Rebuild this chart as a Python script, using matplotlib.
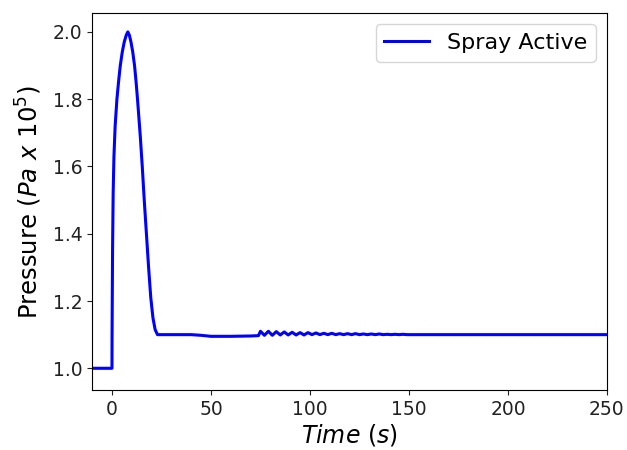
import matplotlib
matplotlib.use("Agg")
import matplotlib.pyplot as plt

# Time (s)
time_s = [-10, 0, 0.05, 0.3, 0.6, 1.0, 1.6, 2.5, 3.3, 4.2, 5.2, 6.2, 7.2, 8.0, 8.8, 9.6,
          10.5, 11.4, 12.2, 12.9, 14.3, 15.3, 16.3, 17.4, 18.5, 19.6, 20.7, 21.8, 23.0,
          30, 40, 45, 50, 60, 70, 74,
          75, 77, 79, 81, 83, 85, 87, 89, 91, 93, 95, 97, 99, 101, 103, 105, 107, 109,
          111, 113, 115, 117, 119, 121, 123, 125, 127, 129, 131, 133, 135, 137, 139,
          141, 143, 145, 147, 149, 160, 200, 250]
# Pressure (Pa x 10^5)
pressure = [1.0, 1.0, 1.10, 1.35, 1.52, 1.63, 1.72, 1.80, 1.85, 1.90, 1.94, 1.97, 1.99, 2.0, 1.99, 1.97,
            1.94, 1.90, 1.85, 1.80, 1.69, 1.60, 1.50, 1.40, 1.30, 1.21, 1.15, 1.115, 1.10,
            1.10, 1.10, 1.098, 1.095, 1.095, 1.096, 1.097,
            1.110, 1.098, 1.110, 1.098, 1.109, 1.099, 1.108, 1.099, 1.107, 1.099, 1.106, 1.099, 1.106, 1.100, 1.105, 1.100, 1.104, 1.100,
            1.104, 1.100, 1.103, 1.100, 1.103, 1.100, 1.103, 1.100, 1.102, 1.100, 1.102, 1.100, 1.102, 1.100, 1.101,
            1.100, 1.101, 1.100, 1.101, 1.100, 1.100, 1.100, 1.100]

x_ticks = [0, 50, 100, 150, 200, 250]
y_ticks = [1.0, 1.2, 1.4, 1.6, 1.8, 2.0]

fig = plt.figure(figsize=(6.27, 4.5), dpi=100)
ax = fig.add_axes([0.147, 0.133, 0.821, 0.838])
ax.plot(time_s, pressure, color="blue", linewidth=2.2, label="Spray Active")
ax.set_xlim(-10, 250)
ax.set_ylim(0.935, 2.056)
ax.set_xticks(x_ticks)
ax.set_yticks(y_ticks)
ax.set_yticklabels([f"{v:.1f}" for v in y_ticks])
ax.tick_params(labelsize=13.5, colors="#222222")
ax.set_xlabel("$Time\\ (s)$", fontsize=17, labelpad=2)
ax.set_ylabel("Pressure ($Pa\\ x\\ 10^5$)", fontsize=17.5, labelpad=6)
ax.legend(loc="upper right", fontsize=16)
fig.savefig("out.png", dpi=100)
